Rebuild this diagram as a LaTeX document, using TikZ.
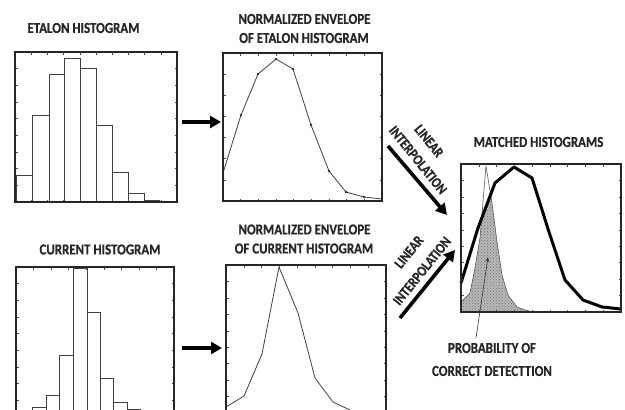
\documentclass[tikz,border=0pt]{standalone}
\usepackage{fontspec}
\setmainfont{Carlito}[BoldFeatures={FakeStretch=0.85,FakeBold=0.6}]
\usetikzlibrary{arrows.meta,patterns}
\newcommand\frameticks[6]{%
  \foreach \k in {1,...,\the\numexpr#5-1\relax}{%
    \pgfmathsetmacro\tx{#1+(#3-#1)*\k/#5}%
    \draw[tickmark] (\tx,#2) -- ++(0,2.5);
    \draw[tickmark] (\tx,#4) -- ++(0,-2.5);}
  \foreach \k in {1,...,\the\numexpr#6-1\relax}{%
    \pgfmathsetmacro\ty{#2+(#4-#2)*\k/#6}%
    \draw[tickmark] (#1,\ty) -- ++(2.5,0);
    \draw[tickmark] (#3,\ty) -- ++(-2.5,0);}
  \draw[panelframe] (#1,#2) rectangle (#3,#4);
}
\begin{document}
\begin{tikzpicture}[x=1pt,y=-1pt,
  panelframe/.style={draw=black!85,line width=1.1pt},
  tickmark/.style={draw=black!70,line width=0.5pt},
  bar/.style={draw=black!75,line width=0.8pt,fill=white},
  envline/.style={draw=black!75,line width=0.8pt,line join=round},
  title/.style={font=\bfseries\fontsize{15.2}{17}\selectfont,text=black!85,inner sep=0pt},
  bigarrow/.style={line width=3.6pt,-{Triangle[length=11pt,width=12pt]}},
  lbl/.style={font=\bfseries\fontsize{14.5}{16}\selectfont,text=black!85,inner sep=0pt}]
\useasboundingbox (0,0) rectangle (625,410);
\clip (0,0) rectangle (625,410);

% ---------- titles
\node[title] (t1) at (83.5,28) {ETALON HISTOGRAM};
\node[title] (t2a) at (304.5,19) {NORMALIZED ENVELOPE};
\node[title] (t2b) at (304,38) {OF ETALON HISTOGRAM};
\node[title] (t3) at (100,249.5) {CURRENT HISTOGRAM};
\node[title] (t4a) at (304.5,229.5) {NORMALIZED ENVELOPE};
\node[title] (t4b) at (304,248.5) {OF CURRENT HISTOGRAM};
\node[title] (t5) at (538.5,142) {MATCHED HISTOGRAMS};
\node[title] (t6a) at (492,348) {PROBABILITY OF};
\node[title] (t6b) at (492,371) {CORRECT DETECTTION};

% ---------- etalon histogram
\foreach \a/\b/\h in {16/32/175,32/49/115,49/64/74,64/80/58,80/96/68,96/112/125,112/128/172,128/144/193}
  \draw[bar] (\a,202) rectangle (\b,\h);
\draw[bar,fill=black!35] (144,202) rectangle (159,200);
\frameticks{15}{52}{177}{202}{10}{9}

% ---------- etalon envelope
\draw[envline] (223,173) -- (241,115) -- (258,74) -- (276,59) -- (293,69) -- (311,125) -- (329,171) -- (346,192) -- (364,197) -- (382,199);
\foreach \p in {(241,115),(258,74),(276,59),(293,69),(311,125),(329,171),(346,192),(364,197)}
  \fill[black!80] \p circle (1.3);
\frameticks{223}{53}{382}{201}{9}{7}

% ---------- current histogram
\foreach \a/\b/\h in {32/46/407,46/59/395,59/73/355,73/87/268,87/100/312,100/113/378,113/127/402,127/140/409}
  \draw[bar] (\a,417) rectangle (\b,\h);
\frameticks{16}{267}{174}{417}{9}{9}

% ---------- current envelope
\draw[envline] (226,407) -- (244,396) -- (262,354) -- (279,267) -- (298,313) -- (315,378) -- (333,402) -- (352,411) -- (369,413) -- (386,413);
\frameticks{226}{265}{386}{413}{9}{9}

% ---------- matched histograms
\begin{scope}
  \clip (461,283) -- (478,228) -- (495,183) -- (514,167) -- (532,178) -- (549,232) -- (565,280) -- (583,300) -- (602,307) -- (621,309) -- (621,312) -- (461,312) -- cycle;
  \fill[black!28] (461,312) -- (461,302) -- (470,293) -- (475,268) -- (480,238) -- (486,166) -- (492,203) -- (497,242) -- (502,275) -- (508,295) -- (517,307) -- (525,310) -- (533,312) -- cycle;
  \fill[pattern=crosshatch dots,pattern color=black!55] (461,312) -- (461,302) -- (470,293) -- (475,268) -- (480,238) -- (486,166) -- (492,203) -- (497,242) -- (502,275) -- (508,295) -- (517,307) -- (525,310) -- (533,312) -- cycle;
\end{scope}
\draw[draw=black!65,line width=0.6pt,line join=round] (461,302) -- (470,293) -- (475,268) -- (480,238) -- (486,166) -- (492,203) -- (497,242) -- (502,275) -- (508,295) -- (517,307) -- (525,310) -- (533,312);
\draw[black,line width=3pt,line join=round] (461,283) -- (478,228) -- (495,183) -- (514,167) -- (532,178) -- (549,232) -- (565,280) -- (583,300) -- (602,307) -- (621,309);
\frameticks{461}{164}{621}{312}{9}{9}

% ---------- arrows
\coordinate (e1) at (182,122); \coordinate (e2) at (221,122);
\coordinate (c1) at (182,348); \coordinate (c2) at (222,348);
\draw[bigarrow] (e1) -- (e2);
\draw[bigarrow] (c1) -- (c2);
\coordinate (d1) at (388,146); \coordinate (d2) at (447,215);
\coordinate (u1) at (400,318); \coordinate (u2) at (455,250);
\draw[bigarrow] (d1) -- (d2);
\draw[bigarrow] (u1) -- (u2);
\node[lbl,rotate=-51] (l1a) at (429,141) {LINEAR};
\node[lbl,rotate=-51] (l1b) at (418,160) {INTERPOLATION};
\node[lbl,rotate=51] (l2a) at (409,252) {LINEAR};
\node[lbl,rotate=51] (l2b) at (422,271) {INTERPOLATION};

% ---------- leader
\coordinate (p1) at (476,338); \coordinate (p2) at (488,257);
\draw[black!80,line width=0.6pt,-{Stealth[length=5pt,width=3.5pt]}] (p1) -- (p2);
\end{tikzpicture}
\end{document}
